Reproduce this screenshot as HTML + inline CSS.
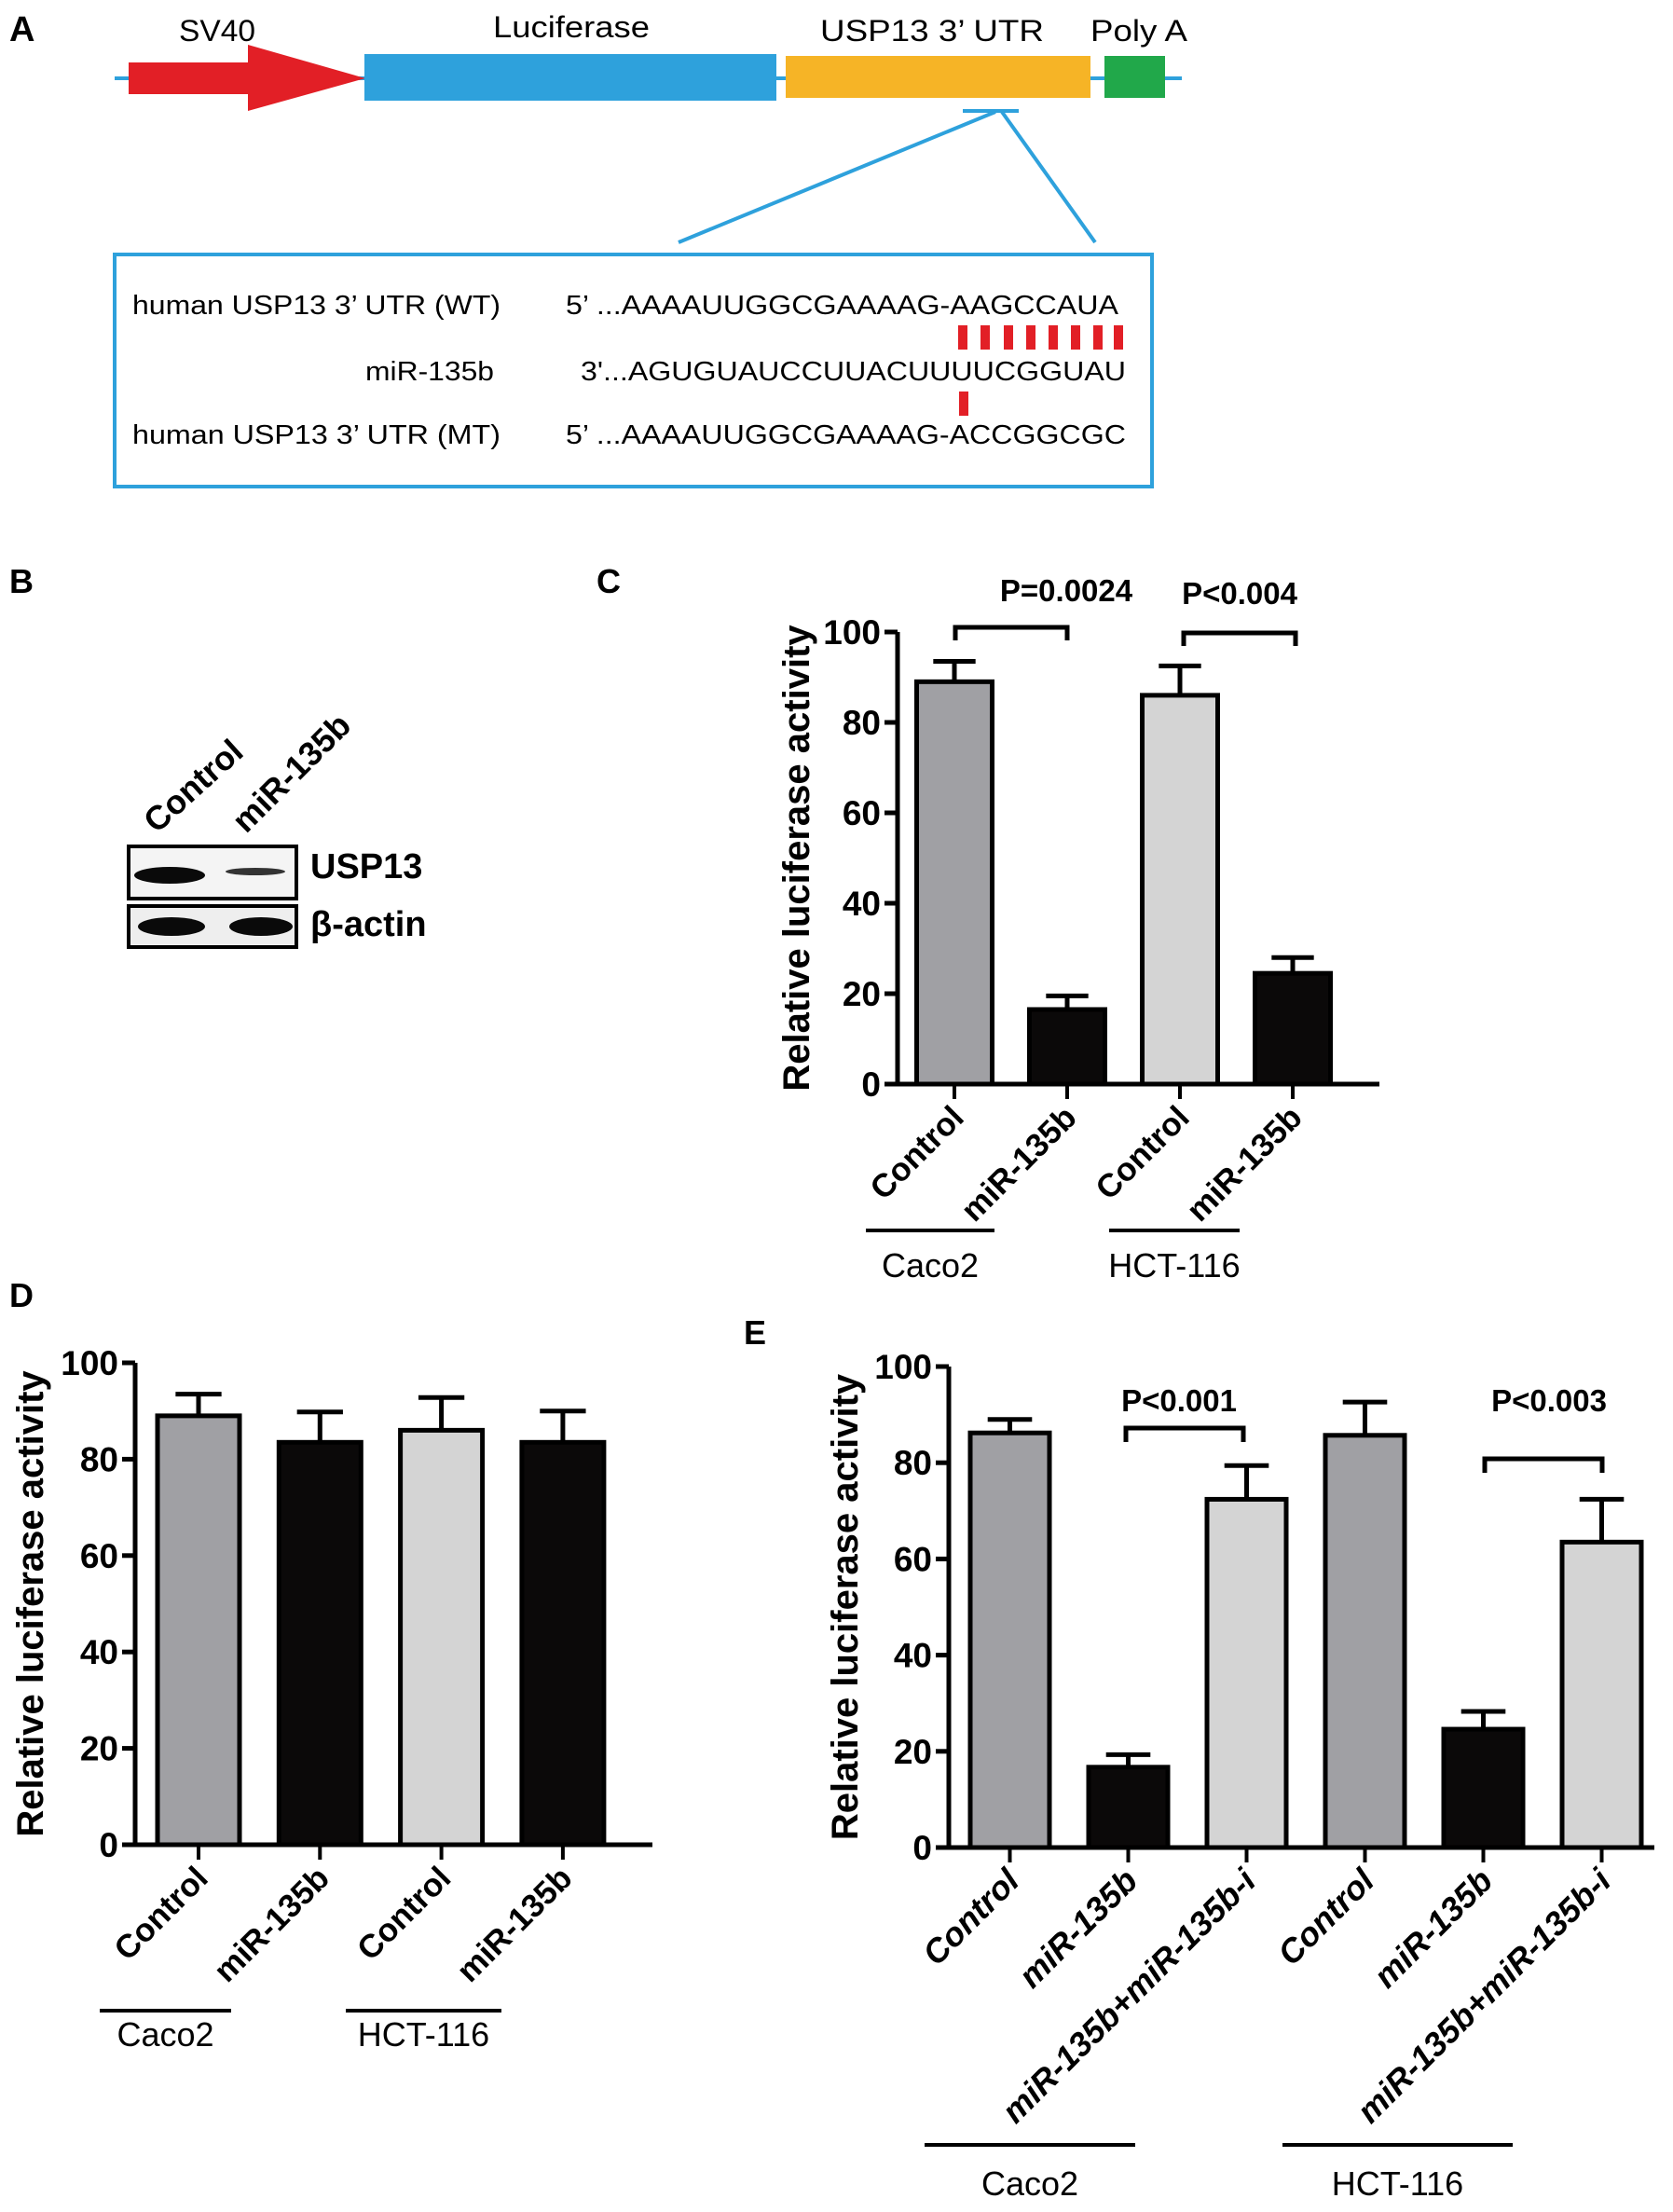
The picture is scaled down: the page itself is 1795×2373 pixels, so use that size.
<!DOCTYPE html>
<html><head><meta charset="utf-8"><style>
html,body{margin:0;padding:0;background:#fff;}
svg{display:block;font-family:"Liberation Sans",Arial,sans-serif;}
.b{font-weight:bold;}
</style></head><body>
<svg id="fig" width="1795" height="2373" viewBox="0 0 1795 2373" xmlns="http://www.w3.org/2000/svg">
<g>
<text x="10" y="44" font-size="38" class="b">A</text>
<line x1="123" y1="84" x2="1268" y2="84" stroke="#2ea1dc" stroke-width="4"/>
<polygon points="138,67 266,67 266,48 392,84 266,119 266,101 138,101" fill="#e21f26"/>
<rect x="391" y="58" width="442" height="50" fill="#2ea1dc"/>
<rect x="843" y="60" width="327" height="45" fill="#f6b426"/>
<rect x="1185" y="60" width="65" height="45" fill="#21a84a"/>
<text x="233" y="44" font-size="32" text-anchor="middle" textLength="82" lengthAdjust="spacingAndGlyphs">SV40</text>
<text x="613" y="40" font-size="32" text-anchor="middle" textLength="168" lengthAdjust="spacingAndGlyphs">Luciferase</text>
<text x="1000" y="44" font-size="32" text-anchor="middle" textLength="240" lengthAdjust="spacingAndGlyphs">USP13 3’ UTR</text>
<text x="1222" y="44" font-size="32" text-anchor="middle" textLength="104" lengthAdjust="spacingAndGlyphs">Poly A</text>
<line x1="1033" y1="119" x2="1093" y2="119" stroke="#2ea1dc" stroke-width="4"/>
<line x1="1068" y1="120" x2="728" y2="260" stroke="#2ea1dc" stroke-width="4"/>
<line x1="1075" y1="120" x2="1175" y2="260" stroke="#2ea1dc" stroke-width="4"/>
<rect x="123" y="273" width="1113" height="249" fill="none" stroke="#2ea1dc" stroke-width="4"/>
<g font-size="29">
<text x="142" y="337" textLength="395" lengthAdjust="spacingAndGlyphs">human USP13 3’ UTR (WT)</text>
<text x="607" y="337" textLength="593" lengthAdjust="spacingAndGlyphs">5’ ...AAAAUUGGCGAAAAG-AAGCCAUA</text>
<text x="530" y="408" text-anchor="end" textLength="138" lengthAdjust="spacingAndGlyphs">miR-135b</text>
<text x="623" y="408" textLength="585" lengthAdjust="spacingAndGlyphs">3'...AGUGUAUCCUUACUUUUCGGUAU</text>
<text x="142" y="476" textLength="395" lengthAdjust="spacingAndGlyphs">human USP13 3’ UTR (MT)</text>
<text x="607" y="476" textLength="601" lengthAdjust="spacingAndGlyphs">5’ ...AAAAUUGGCGAAAAG-ACCGGCGC</text>
</g>
<g fill="#e21f26">
<rect x="1028" y="349" width="10" height="26"/><rect x="1052" y="349" width="10" height="26"/><rect x="1077" y="349" width="10" height="26"/><rect x="1101" y="349" width="10" height="26"/><rect x="1125" y="349" width="10" height="26"/><rect x="1149" y="349" width="10" height="26"/><rect x="1173" y="349" width="10" height="26"/><rect x="1195" y="349" width="10" height="26"/>
<rect x="1029" y="420" width="10" height="26"/>
</g>
</g>
<g>
<text x="10" y="636" font-size="36" class="b">B</text>
<text transform="translate(168,895) rotate(-42)" font-size="36" class="b">Control</text>
<text transform="translate(264,895) rotate(-45)" font-size="36" class="b">miR-135b</text>
<rect x="138" y="908" width="180" height="56" fill="#f4f4f4" stroke="#000" stroke-width="4"/>
<ellipse cx="182" cy="939" rx="38" ry="9" fill="#0a0a0a"/>
<ellipse cx="274" cy="935" rx="32" ry="4" fill="#333"/>
<rect x="138" y="972" width="180" height="44" fill="#eee" stroke="#000" stroke-width="4"/>
<ellipse cx="184" cy="994" rx="36" ry="10" fill="#0a0a0a"/>
<ellipse cx="280" cy="994" rx="34" ry="10" fill="#0a0a0a"/>
<text x="333" y="942" font-size="38" class="b">USP13</text>
<text x="333" y="1004" font-size="38" class="b">β-actin</text>
</g>
<text x="640" y="636" font-size="36" class="b">C</text>
<text x="10" y="1402" font-size="36" class="b">D</text>
<text x="798" y="1442" font-size="36" class="b">E</text>
<g id="chartC"></g>
<g id="chartD"></g>
<g id="chartE"></g>
</svg>
<script>
// Chart C data
const cCategories = ["Control","miR-135b","Control","miR-135b"];
const cValues = [89, 16.5, 86, 24.5];
const cErrors = [4.5, 3, 6.5, 3.5];
// Chart D data
const dCategories = ["Control","miR-135b","Control","miR-135b"];
const dValues = [89, 83.5, 86, 83.5];
const dErrors = [4.5, 6.3, 6.8, 6.5];
// Chart E data
const eCategories = ["Control","miR-135b","miR-135b+miR-135b-i","Control","miR-135b","miR-135b+miR-135b-i"];
const eValues = [86.2, 16.7, 72.4, 85.7, 24.6, 63.5];
const eErrors = [2.8, 2.6, 7, 6.9, 3.7, 8.9];
const yTicks = [0, 20, 40, 60, 80, 100];

const NS = "http://www.w3.org/2000/svg";
function mk(parent, tag, attrs, text){
  const e = document.createElementNS(NS, tag);
  for (const k in attrs) e.setAttribute(k, attrs[k]);
  if (text !== undefined) e.textContent = text;
  parent.appendChild(e);
  return e;
}
function chart(id, cfg, cats, vals, errs){
  const g = document.getElementById(id);
  const y = v => cfg.y0 - (cfg.y0 - cfg.y100) * v / 100;
  const n = cats.length;
  const xc = i => cfg.x1 + cfg.step * i;
  for (let i = 0; i < n; i++){
    const cx = xc(i), w = cfg.bw;
    const top = y(vals[i]), et = y(vals[i] + errs[i]);
    const el = mk(g, "line", {x1:cx, y1:top, x2:cx, y2:et, stroke:"#000", "stroke-width":5});
    
    
    const cap = mk(g, "line", {x1:cx - w*0.28, y1:et, x2:cx + w*0.28, y2:et, stroke:"#000", "stroke-width":5});
    
    
    const r = mk(g, "rect", {x:cx - w/2, y:top, width:w, height:cfg.y0 - top, fill:cfg.colors[i], stroke:"#000", "stroke-width":5});
    
    
    const t = mk(g, "line", {x1:cx, y1:cfg.y0, x2:cx, y2:cfg.y0 + 16, stroke:"#000", "stroke-width":4});
    
    
    const lab = mk(g, "text", {transform:`translate(${cx + 12},${cfg.y0 + 38}) rotate(-45)`, "text-anchor":"end", "font-size":cfg.lfs, "font-weight":"bold", "font-style":cfg.italic ? "italic" : "normal"}, cats[i]);
    
    
  }
  const ya = mk(g, "line", {x1:cfg.ax, y1:cfg.y100, x2:cfg.ax, y2:cfg.y0, stroke:"#000", "stroke-width":5});
  
  
  const xa = mk(g, "line", {x1:cfg.ax - 14, y1:cfg.y0, x2:cfg.xend, y2:cfg.y0, stroke:"#000", "stroke-width":5});
  
  
  yTicks.forEach(v => {
    const tk = mk(g, "line", {x1:cfg.ax - 14, y1:y(v), x2:cfg.ax, y2:y(v), stroke:"#000", "stroke-width":5});
    
    
    const tl = mk(g, "text", {x:cfg.ax - 18, y:y(v) + 13, "text-anchor":"end", "font-size":37, "font-weight":"bold"}, String(v));
    
    
  });
  const mid = (cfg.y0 + cfg.y100) / 2;
  const yt = mk(g, "text", {transform:`translate(${cfg.titleX},${mid}) rotate(-90)`, "text-anchor":"middle", "font-size":40, "font-weight":"bold"}, "Relative luciferase activity");
  
  
  cfg.groups.forEach(gr => {
    const l = mk(g, "line", {x1:gr[0], y1:cfg.gy, x2:gr[1], y2:cfg.gy, stroke:"#000", "stroke-width":4});
    
    
    const t = mk(g, "text", {x:(gr[0] + gr[1]) / 2, y:cfg.gy + cfg.gty, "text-anchor":"middle", "font-size":36}, gr[2]);
    
    
  });
  (cfg.brackets || []).forEach(b => {
    const p = mk(g, "path", {d:`M${b[0]},${b[3]} V${b[2]} H${b[1]} V${b[3]}`, fill:"none", stroke:"#000", "stroke-width":5});
    
    
    const t = mk(g, "text", {x:b[5], y:b[6], "text-anchor":"middle", "font-size":33, "font-weight":"bold"}, b[4]);
    
    
  });
}
const G1 = "#a0a0a4", G2 = "#d4d4d4", BK = "#0b0909";
chart("chartC", {ax:963, y0:1163, y100:678, x1:1024, step:121, bw:81, xend:1480, colors:[G1,BK,G2,BK], lfs:35, titleX:868,
  gy:1320, gty:50, groups:[[929,1067,"Caco2"],[1190,1330,"HCT-116"]],
  brackets:[[1025,1145,673,687,"P=0.0024",1144,645],[1270,1390,679,693,"P<0.004",1330,648]]}, cCategories, cValues, cErrors);
chart("chartD", {ax:145, y0:1979, y100:1462, x1:213, step:130.3, bw:88, xend:700, colors:[G1,BK,G2,BK], lfs:35, titleX:46,
  gy:2157, gty:38, groups:[[107,248,"Caco2"],[371,538,"HCT-116"]]}, dCategories, dValues, dErrors);
chart("chartE", {ax:1018, y0:1982, y100:1466, x1:1083.5, step:127, bw:85, xend:1775, colors:[G1,BK,G2,G1,BK,G2], lfs:36, italic:true, titleX:920,
  gy:2301, gty:54, groups:[[992,1218,"Caco2"],[1376,1623,"HCT-116"]],
  brackets:[[1208,1334,1532,1547,"P<0.001",1265,1514],[1593,1719,1565,1580,"P<0.003",1662,1514]]}, eCategories, eValues, eErrors);
</script>
</body></html>
